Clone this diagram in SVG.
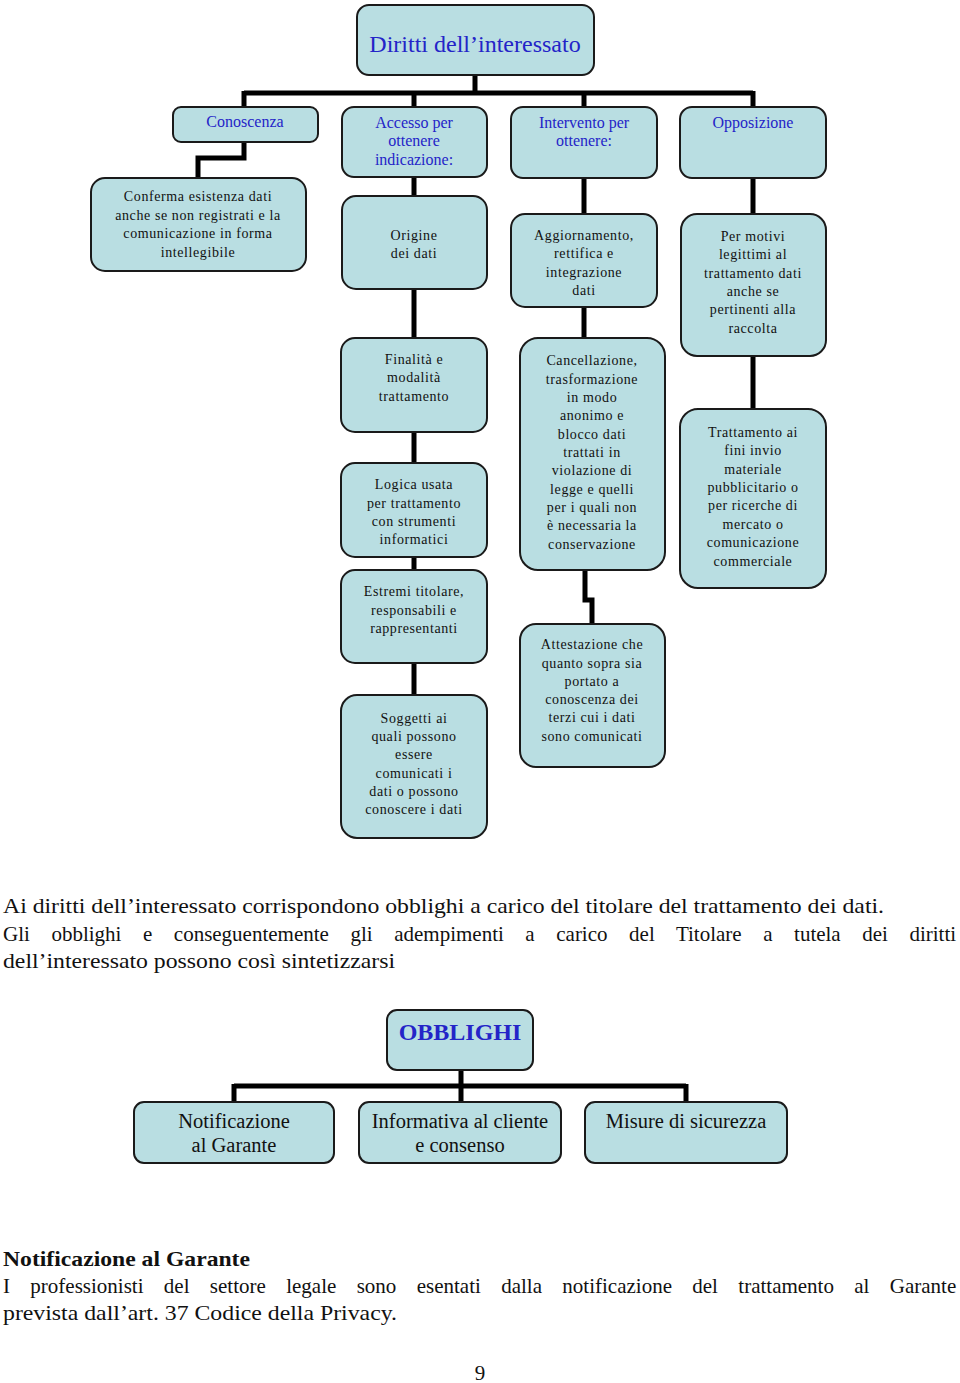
<svg xmlns="http://www.w3.org/2000/svg" width="960" height="1383" viewBox="0 0 960 1383">
<style>
.box{fill:#b9dee2;stroke:#1a1a1a;stroke-width:2}
.t{font-family:"Liberation Serif",serif;font-size:14px;fill:#111;text-anchor:middle;letter-spacing:0.6px}
.h{font-family:"Liberation Serif",serif;font-size:16px;fill:#2424c8;text-anchor:middle}
.big{font-family:"Liberation Serif",serif;font-size:20.5px;fill:#111;text-anchor:middle}
.p{font-family:"Liberation Serif",serif;font-size:21px;fill:#111}
.c{fill:none;stroke:#000;stroke-width:5}
</style>
<rect width="960" height="1383" fill="#fff"/>
<g id="connectors">
<path class="c" d="M475 75V93M244 93H753M244 91V107M414 91V107M584 91V107M753 91V107"/>
<path class="c" d="M244 142V158H198V178"/>
<path class="c" d="M414 177V196M414 289V338M414 432V463M414 557V570M414 663V695"/>
<path class="c" d="M584 178V214M584 307V338M585 570V600H592V624"/>
<path class="c" d="M753 178V214M753 356V409"/>
<path class="c" d="M461 1070V1086M234 1086H686M234 1084V1102M461 1084V1102M686 1084V1102"/>
</g>
<g id="n-diritti"><rect class="box" x="357" y="5" width="237" height="70" rx="12"/><text class="h" x="475" y="52" style="font-size:24px">Diritti dell’interessato</text></g>
<g id="n-conoscenza"><rect class="box" x="173" y="107" width="145" height="35" rx="8"/><text class="h" x="245" y="127">Conoscenza</text></g>
<g id="n-accesso"><rect class="box" x="342" y="107" width="145" height="70" rx="12"/><text class="h" x="414" y="128">Accesso per</text><text class="h" x="414" y="146">ottenere</text><text class="h" x="414" y="165">indicazione:</text></g>
<g id="n-intervento"><rect class="box" x="511" y="107" width="146" height="71" rx="12"/><text class="h" x="584" y="128">Intervento per</text><text class="h" x="584" y="146">ottenere:</text></g>
<g id="n-opposizione"><rect class="box" x="680" y="107" width="146" height="71" rx="12"/><text class="h" x="753" y="128">Opposizione</text></g>
<g id="n-conferma"><rect class="box" x="91" y="178" width="215" height="93" rx="14"/><text class="t" x="198" y="201">Conferma esistenza dati</text><text class="t" x="198" y="220">anche se non registrati  e la</text><text class="t" x="198" y="238">comunicazione in forma</text><text class="t" x="198" y="257">intellegibile</text></g>
<g id="n-origine"><rect class="box" x="342" y="196" width="145" height="93" rx="14"/><text class="t" x="414" y="240">Origine</text><text class="t" x="414" y="258">dei dati</text></g>
<g id="n-finalita"><rect class="box" x="341" y="338" width="146" height="94" rx="14"/><text class="t" x="414" y="364">Finalità e</text><text class="t" x="414" y="382">modalità</text><text class="t" x="414" y="401">trattamento</text></g>
<g id="n-logica"><rect class="box" x="341" y="463" width="146" height="94" rx="14"/><text class="t" x="414" y="489">Logica usata</text><text class="t" x="414" y="508">per trattamento</text><text class="t" x="414" y="526">con strumenti</text><text class="t" x="414" y="544">informatici</text></g>
<g id="n-estremi"><rect class="box" x="341" y="570" width="146" height="93" rx="14"/><text class="t" x="414" y="596">Estremi titolare,</text><text class="t" x="414" y="615">responsabili e</text><text class="t" x="414" y="633">rappresentanti</text></g>
<g id="n-soggetti"><rect class="box" x="341" y="695" width="146" height="143" rx="16"/><text class="t" x="414" y="723">Soggetti ai</text><text class="t" x="414" y="741">quali possono</text><text class="t" x="414" y="759">essere</text><text class="t" x="414" y="778">comunicati i</text><text class="t" x="414" y="796">dati o possono</text><text class="t" x="414" y="814">conoscere i dati</text></g>
<g id="n-aggiornamento"><rect class="box" x="511" y="214" width="146" height="93" rx="14"/><text class="t" x="584" y="240">Aggiornamento,</text><text class="t" x="584" y="258">rettifica e</text><text class="t" x="584" y="277">integrazione</text><text class="t" x="584" y="295">dati</text></g>
<g id="n-cancellazione"><rect class="box" x="520" y="338" width="145" height="232" rx="18"/><text class="t" x="592" y="365">Cancellazione,</text><text class="t" x="592" y="384">trasformazione</text><text class="t" x="592" y="402">in modo</text><text class="t" x="592" y="420">anonimo e</text><text class="t" x="592" y="439">blocco dati</text><text class="t" x="592" y="457">trattati in</text><text class="t" x="592" y="475">violazione di</text><text class="t" x="592" y="494">legge e quelli</text><text class="t" x="592" y="512">per i quali non</text><text class="t" x="592" y="530">è necessaria la</text><text class="t" x="592" y="549">conservazione</text></g>
<g id="n-attestazione"><rect class="box" x="520" y="624" width="145" height="143" rx="16"/><text class="t" x="592" y="649">Attestazione che</text><text class="t" x="592" y="668">quanto sopra sia</text><text class="t" x="592" y="686">portato a</text><text class="t" x="592" y="704">conoscenza dei</text><text class="t" x="592" y="722">terzi cui i dati</text><text class="t" x="592" y="741">sono comunicati</text></g>
<g id="n-motivi"><rect class="box" x="681" y="214" width="145" height="142" rx="16"/><text class="t" x="753" y="241">Per motivi</text><text class="t" x="753" y="259">legittimi al</text><text class="t" x="753" y="278">trattamento dati</text><text class="t" x="753" y="296">anche se</text><text class="t" x="753" y="314">pertinenti alla</text><text class="t" x="753" y="333">raccolta</text></g>
<g id="n-trattamento"><rect class="box" x="680" y="409" width="146" height="179" rx="18"/><text class="t" x="753" y="437">Trattamento ai</text><text class="t" x="753" y="455">fini invio</text><text class="t" x="753" y="474">materiale</text><text class="t" x="753" y="492">pubblicitario o</text><text class="t" x="753" y="510">per ricerche di</text><text class="t" x="753" y="529">mercato o</text><text class="t" x="753" y="547">comunicazione</text><text class="t" x="753" y="566">commerciale</text></g>
<text class="p" x="3" y="913" textLength="881" lengthAdjust="spacingAndGlyphs">Ai diritti dell’interessato corrispondono obblighi a carico del titolare del trattamento dei dati.</text>
<text class="p" x="3" y="941" style="word-spacing:16.3px">Gli obblighi e conseguentemente gli adempimenti a carico del Titolare a tutela dei diritti</text>
<text class="p" x="3" y="968" textLength="392" lengthAdjust="spacingAndGlyphs">dell’interessato possono così sintetizzarsi</text>
<g id="n-obblighi"><rect class="box" x="387" y="1010" width="146" height="60" rx="10"/><text x="460" y="1040" style="font-family:'Liberation Serif',serif;font-size:24px;font-weight:bold;fill:#2424c8;text-anchor:middle">OBBLIGHI</text></g>
<g id="n-notificazione"><rect class="box" x="134" y="1102" width="200" height="61" rx="10"/><text class="big" x="234" y="1128">Notificazione</text><text class="big" x="234" y="1152">al Garante</text></g>
<g id="n-informativa"><rect class="box" x="359" y="1102" width="202" height="61" rx="10"/><text class="big" x="460" y="1128">Informativa al cliente</text><text class="big" x="460" y="1152">e consenso</text></g>
<g id="n-misure"><rect class="box" x="585" y="1102" width="202" height="61" rx="10"/><text class="big" x="686" y="1128">Misure di sicurezza</text></g>
<text class="p" x="3" y="1266" style="font-weight:bold" textLength="247" lengthAdjust="spacingAndGlyphs">Notificazione al Garante</text>
<text class="p" x="3" y="1293" style="word-spacing:15.1px">I professionisti del settore legale sono esentati dalla notificazione del trattamento al Garante</text>
<text class="p" x="3" y="1320" textLength="394" lengthAdjust="spacingAndGlyphs">prevista dall’art. 37 Codice della Privacy.</text>
<text class="p" x="480" y="1380" text-anchor="middle">9</text>
</svg>
